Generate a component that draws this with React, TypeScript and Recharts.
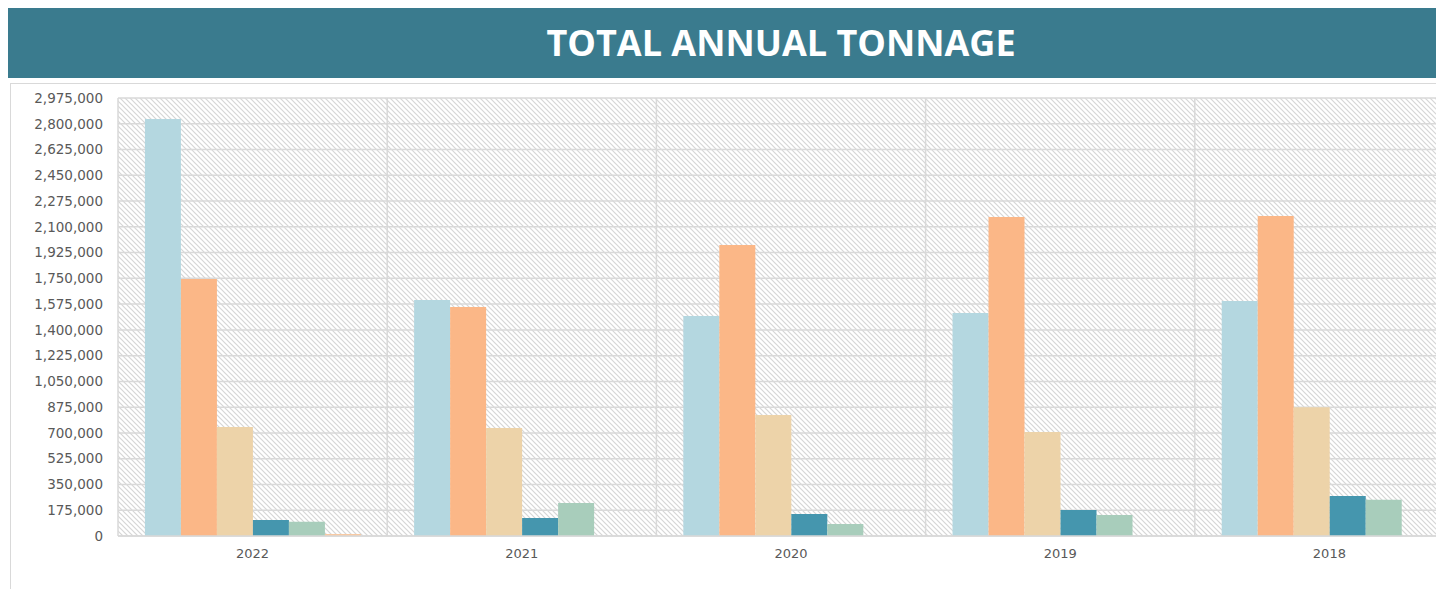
import React from 'react';
import { BarChart, Bar, XAxis, YAxis, CartesianGrid } from 'recharts';

const years = ['2022', '2021', '2020', '2019', '2018'];
const seriesA = [2832000, 1603000, 1494000, 1515000, 1596000];
const seriesB = [1746000, 1555000, 1976000, 2167000, 2173000];
const seriesC = [740000, 733000, 822000, 706000, 874000];
const seriesD = [109000, 122000, 149000, 177000, 272000];
const seriesE = [97000, 224000, 82000, 143000, 247000];
const seriesF = [14000, 0, 0, 0, 0];
const yTicks = [
  0, 175000, 350000, 525000, 700000, 875000, 1050000, 1225000, 1400000,
  1575000, 1750000, 1925000, 2100000, 2275000, 2450000, 2625000, 2800000, 2975000,
];

const data = years.map((year, i) => ({
  year,
  a: seriesA[i],
  b: seriesB[i],
  c: seriesC[i],
  d: seriesD[i],
  e: seriesE[i],
  f: seriesF[i],
}));

const bars = [
  { key: 'a', color: '#B4D7E0' },
  { key: 'b', color: '#FBB787' },
  { key: 'c', color: '#EDD3A9' },
  { key: 'd', color: '#4596AE' },
  { key: 'e', color: '#A8CDBB' },
  { key: 'f', color: '#F8C9A2' },
];

const gridColor = '#D9D9D9';
const textColor = '#595959';

export default function App() {
  return (
    <div style={{ width: 1428, overflow: 'hidden', fontFamily: '"DejaVu Sans", sans-serif' }}>
      <div
        style={{
          height: 70,
          background: '#3A7B8E',
          color: '#fff',
          fontFamily: '"Open Sans", sans-serif',
          fontWeight: 700,
          fontSize: 36,
          lineHeight: '70px',
          textAlign: 'center',
          paddingLeft: 118,
          boxSizing: 'border-box',
        }}
      >
        TOTAL ANNUAL TONNAGE
      </div>
      <div
        style={{
          marginTop: 5,
          marginLeft: 2,
          width: 1470,
          height: 520,
          borderTop: `1px solid ${gridColor}`,
          borderLeft: `1px solid ${gridColor}`,
        }}
      >
        <BarChart
          width={1453}
          height={505}
          data={data}
          margin={{ top: 14, right: 0, bottom: 0, left: 0 }}
          barCategoryGap="10%"
          barGap={0}
        >
          <defs>
            <pattern id="hatch" patternUnits="userSpaceOnUse" width="5" height="5">
              <rect width="5" height="5" fill="#ffffff" />
              <path d="M0,0 L5,5 M-1,4 L1,6 M4,-1 L6,1" stroke="#D6D6D6" strokeWidth={1.2} />
            </pattern>
          </defs>
          <CartesianGrid
            fill="url(#hatch)"
            stroke={gridColor}
            strokeWidth={1.5}
            verticalCoordinatesGenerator={({ offset }: any) =>
              years.concat(['']).map((_, i) => offset.left + (i * offset.width) / years.length)
            }
          />
          <XAxis
            dataKey="year"
            height={53}
            tickLine={false}
            tickSize={0}
            tickMargin={13}
            axisLine={{ stroke: gridColor, strokeWidth: 1.5 }}
            tick={{ fill: textColor, fontSize: 13 }}
          />
          <YAxis
            width={107}
            domain={[0, 2975000]}
            ticks={yTicks}
            interval={0}
            axisLine={false}
            tickLine={false}
            tickSize={0}
            tickMargin={15}
            tick={{ fill: textColor, fontSize: 13.5 }}
            tickFormatter={(v: number) => v.toLocaleString('en-US')}
          />
          {bars.map((b) => (
            <Bar key={b.key} dataKey={b.key} fill={b.color} isAnimationActive={false} />
          ))}
        </BarChart>
      </div>
    </div>
  );
}
